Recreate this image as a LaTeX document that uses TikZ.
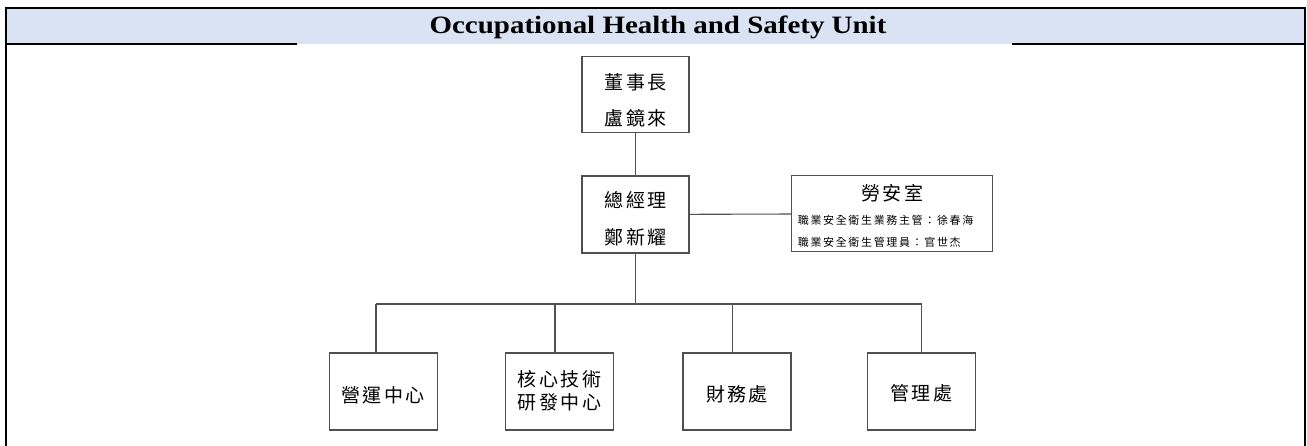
\documentclass[tikz,border=0pt]{standalone}
\usepackage{fontspec}
\setmainfont{Liberation Serif}
\newfontfamily\cjk[LetterSpace=13]{Noto Sans CJK TC}
\newfontfamily\cjksmall[LetterSpace=15]{Noto Sans CJK TC}
\definecolor{headfill}{HTML}{DAE3F3}
\definecolor{boxline}{HTML}{505050}
% two-line text lowered by #1 with baselines #2 apart
\newcommand\twolines[4]{\raisebox{-#1}[\height][\depth]{\fontsize{19}{#2}\selectfont
  \begin{tabular}{@{}c@{}}#3\\#4\end{tabular}}}
\newcommand\oneline[2]{\raisebox{-#1}[\height][\depth]{#2}}
\begin{document}
\begin{tikzpicture}[x=1pt,y=-1pt,
  frame/.style={line width=2pt,black},
  orgbox/.style={draw=boxline,line width=1.2pt,fill=white,inner sep=0pt,
    minimum width=107pt,minimum height=76pt,align=center,
    font=\cjk\fontsize{19}{23}\selectfont},
  lowbox/.style={orgbox,minimum width=108pt,minimum height=77pt},
  link/.style={draw=boxline,line width=1.1pt}]
\useasboundingbox (0,0) rectangle (1307,446);
% header band
\fill[headfill] (6,8) rectangle (1305,44);
\node[font=\bfseries\fontsize{25}{28}\selectfont,anchor=base,xscale=1.158,transform shape,inner sep=0pt]
  (title) at (658,34) {Occupational Health and Safety Unit};
% frame
\draw[frame] (6,446) -- (6,8) -- (1305,8) -- (1305,446);
\draw[frame] (6,44) -- (297,44);
\draw[frame] (1012,44) -- (1305,44);
% boxes
\node[orgbox] (chair) at (635.5,94.3) {\twolines{5.7pt}{36.6pt}{董事長}{盧鏡來}};
\node[orgbox,minimum height=77pt] (gm) at (635.5,214.5) {\twolines{4.2pt}{37.3pt}{總經理}{鄭新耀}};
\node[orgbox,minimum width=201pt,minimum height=76pt] (osh) at (892.3,213.7)
  {\hspace*{-13.4pt}\raisebox{-5.3pt}[\height][\depth]{\cjksmall\fontsize{11}{22.4}\selectfont
   \begin{tabular}{@{}l@{}}
   \multicolumn{1}{@{}c@{}}{\hspace*{13.4pt}\cjk\fontsize{19}{22.4}\selectfont 勞安室}\\[1.2pt]
   職業安全衛生業務主管：徐春海\\
   職業安全衛生管理員：官世杰
   \end{tabular}}};
\node[lowbox] (b1) at (383.2,391.5) {\oneline{3.5pt}{營運中心}};
\node[lowbox] (b2) at (559.5,391.5) {\twolines{1.8pt}{23.3pt}{核心技術}{研發中心}};
\node[lowbox] (b3) at (737,391.5) {\oneline{2.5pt}{財務處}};
\node[lowbox] (b4) at (921.2,391.5) {\oneline{2pt}{管理處}};
% connectors
\coordinate (bus) at (635.5,304);
\coordinate (d1) at (376,304);
\coordinate (d2) at (555,304);
\coordinate (d3) at (732.5,304);
\coordinate (d4) at (921.5,304);
\draw[link] (chair) -- (gm);
\draw[link] (gm) -- (osh);
\draw[link] (gm) -- (bus);
\draw[link] (d1) -- (d4);
\draw[link] (d1) -- (d1 |- b1.north);
\draw[link] (d2) -- (d2 |- b2.north);
\draw[link] (d3) -- (d3 |- b3.north);
\draw[link] (d4) -- (d4 |- b4.north);
\end{tikzpicture}
\end{document}
